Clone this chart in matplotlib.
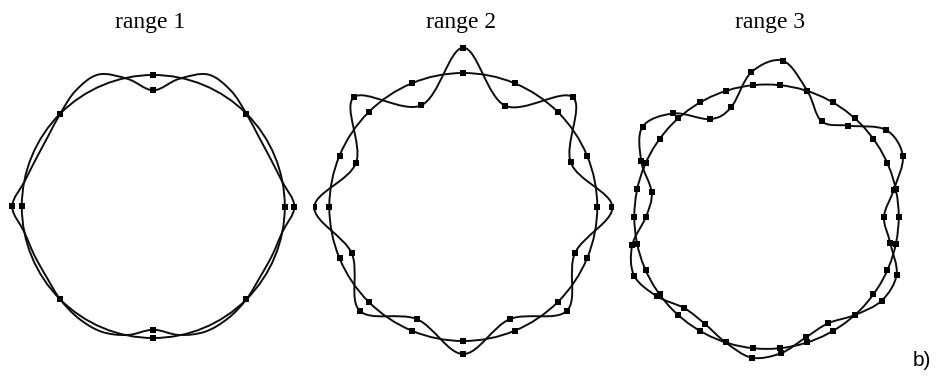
import matplotlib
matplotlib.use("Agg")
import matplotlib.pyplot as plt
import numpy as np
from matplotlib.path import Path
from matplotlib.patches import PathPatch, Circle

# panel titles and ring radius (px)
titles = ["range 1", "range 2", "range 3"]
radius = [131.5, 134.0, 132.2]

# radial offset of the deformed ring (px),
# points are evenly spaced counter-clockwise starting at 3 o'clock
range1_w = [9.6, -0.5, -5.0, -5.0, 0.0, 8.0, 11.4, -1.5,
            -15.3, -1.5, 11.4, 8.0, 0.0, -5.0, -5.0, -0.5,
            9.6, 0.0, -3.0, -3.5, 0.0, 3.0, 4.0, -0.5,
            -8.3, -0.5, 4.0, 3.0, 0.0, -3.5, -3.0, 0.0]
range2_w = [15.0, -17.7, 21.0, -24.4, 25.3, -24.0, 21.0, -18.0,
            15.0, -13.2, 12.6, -12.6, 13.0, -12.6, 12.6, -13.2]
range3_w = [-14.7, -2.0, 17.0, 15.5, -9.7, -22.0, 0.0, 24.6, 13.0, -17.3,
            -19.5, 6.8, 21.0, 5.0, -14.8, -11.7, 5.1, 12.7, 3.2, -9.2,
            -8.6, 0.0, 9.5, 5.1, -5.2, -9.1, 0.0, 10.4, 10.2, -5.7]
# node markers sit on every n-th point
marker_every = [4, 1, 1]

offsets = [range1_w, range2_w, range3_w]

# panel centres in figure pixels
centres = [(153.3, 206.5), (463.3, 207.0), (766.5, 216.7)]
title_x = [150, 461, 770]

W, H = 940, 378


def closed_curve(x, y):
    # smooth closed path through the points (catmull-rom as bezier)
    pts = np.column_stack([x, y])
    tan = (np.roll(pts, -1, axis=0) - np.roll(pts, 1, axis=0)) / 2.0
    verts = [pts[0]]
    codes = [Path.MOVETO]
    n = len(pts)
    for k in range(n):
        j = (k + 1) % n
        verts += [pts[k] + tan[k] / 3, pts[j] - tan[j] / 3, pts[j]]
        codes += [Path.CURVE4] * 3
    return Path(verts, codes)


fig = plt.figure(figsize=(W / 100, H / 100), dpi=100)

for i in range(3):
    cx, cy = centres[i]
    ax = fig.add_axes([(cx - 150) / W, (H - cy - 165) / H, 300 / W, 330 / H])
    ax.set_xlim(-150, 150)
    ax.set_ylim(-165, 165)
    ax.axis('off')

    w = np.array(offsets[i])
    R = radius[i]
    theta = np.deg2rad(np.arange(len(w)) * 360.0 / len(w))
    r = R + w
    x = r * np.cos(theta)
    y = r * np.sin(theta)

    ax.add_patch(Circle((0, 0), R, fill=False, ec='#0d0d0d', lw=1.4))
    ax.add_patch(PathPatch(closed_curve(x, y), fill=False, ec='#0d0d0d', lw=1.4))

    step = marker_every[i]
    th_n = theta[::step]
    ax.plot(R * np.cos(th_n), R * np.sin(th_n), 's', color='black', ms=4.2, mew=0)
    ax.plot(x[::step], y[::step], 's', color='black', ms=4.2, mew=0)

    fig.text(title_x[i] / W, 1 - 28 / H, titles[i], ha='center', va='baseline',
             family='Liberation Serif', fontsize=17)

fig.text(913 / W, 1 - 366 / H, 'b)', ha='left', va='baseline',
         family='Liberation Sans', fontsize=15)

fig.savefig('out.png', dpi=100)
